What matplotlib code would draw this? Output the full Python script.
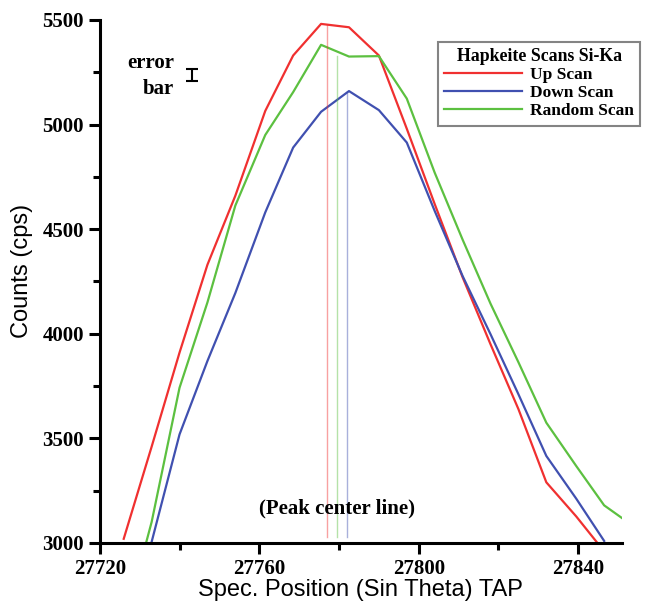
import numpy as np
import matplotlib
matplotlib.use("Agg")
import matplotlib.pyplot as plt
from matplotlib.ticker import MultipleLocator

# spectrometer positions (shared by the three scans)
positions = [27726, 27733, 27740, 27747, 27754, 27761.5, 27768.5, 27775.5, 27782.5,
             27790, 27797, 27804, 27811, 27818, 27825, 27832, 27839.5, 27846.5, 27853.5]

# counts (nan = no point)
up_scan = [3020, 3460, 3910, 4330, 4660, 5065, 5330, 5481, 5465,
           5330, 4980, 4620, 4270, 3950, 3640, 3290, 3127, 2960, np.nan]
down_scan = [2500, 3005, 3519, 3870, 4195, 4580, 4890, 5061, 5160,
             5069, 4914, 4587, 4276, 3998, 3711, 3416, 3212, 3010, np.nan]
random_scan = [2600, 3100, 3742, 4150, 4613, 4950, 5155, 5381, 5325,
               5327, 5124, 4770, 4450, 4144, 3864, 3575, 3368, 3180, 3085]

series_names = ["Up Scan", "Down Scan", "Random Scan"]
series_colors = ["#f03030", "#4050b0", "#5cc040"]

# peak center lines: position and top of line
peak_centers = [27777.0, 27782.0, 27779.5]
peak_tops = [5475, 5155, 5330]

serif = ["Liberation Serif", "DejaVu Serif"]
sans = ["Liberation Sans", "DejaVu Sans"]


def main():
    fig = plt.figure(figsize=(6.48, 6.04), dpi=100)
    ax = fig.add_axes([0.154, 0.101, 0.806, 0.866])

    all_series = [up_scan, down_scan, random_scan]
    for vals, name, col in zip(all_series, series_names, series_colors):
        ax.plot(positions, vals, color=col, lw=1.6, label=name)

    for xc, top, col in zip(peak_centers, peak_tops, series_colors):
        ax.plot([xc, xc], [3030, top], color=col, lw=1.0, alpha=0.45)

    # error bar sample
    ax.errorbar([27743.2], [5237], yerr=[27], color="black", lw=1.5,
                capsize=4, capthick=1.5)
    ax.text(27738.6, 5230, "error\nbar", ha="right", va="center", family=serif,
            fontsize=15, fontweight="bold", linespacing=1.4)
    ax.text(27779.6, 3165, "(Peak center line)", ha="center", va="center",
            family=serif, fontsize=15, fontweight="bold")

    ax.set_xlim(27720, 27851)
    ax.set_ylim(3000, 5500)
    ax.xaxis.set_major_locator(MultipleLocator(40))
    ax.xaxis.set_minor_locator(MultipleLocator(20))
    ax.yaxis.set_major_locator(MultipleLocator(500))
    ax.yaxis.set_minor_locator(MultipleLocator(250))

    for side in ["top", "right"]:
        ax.spines[side].set_visible(False)
    for side in ["left", "bottom"]:
        ax.spines[side].set_linewidth(2.2)
    ax.tick_params(which="major", length=8, width=2.2, direction="out")
    ax.tick_params(which="minor", length=5, width=2.2, direction="out")
    for lab in ax.get_xticklabels() + ax.get_yticklabels():
        lab.set_family(serif)
        lab.set_fontweight("bold")
        lab.set_fontsize(15)

    ax.set_xlabel("Spec. Position (Sin Theta) TAP", family=sans, fontsize=17)
    ax.set_ylabel("Counts (cps)", family=sans, fontsize=17)
    ax.xaxis.set_label_coords(0.5, -0.069)
    ax.yaxis.set_label_coords(-0.128, 0.52)

    leg = ax.legend(loc="upper right", bbox_to_anchor=(0.988, 0.931),
                    bbox_transform=fig.transFigure, fancybox=False,
                    title="Hapkeite Scans Si-Ka", handlelength=4.5,
                    borderpad=0.35, labelspacing=0.12, handletextpad=0.45,
                    borderaxespad=0,
                    prop={"family": serif, "weight": "bold", "size": 12.5},
                    title_fontproperties={"family": serif, "weight": "bold", "size": 12.8})
    leg.get_frame().set_edgecolor("#666666")
    leg.get_frame().set_linewidth(1.5)

    fig.savefig("out.png", dpi=100)


main()
